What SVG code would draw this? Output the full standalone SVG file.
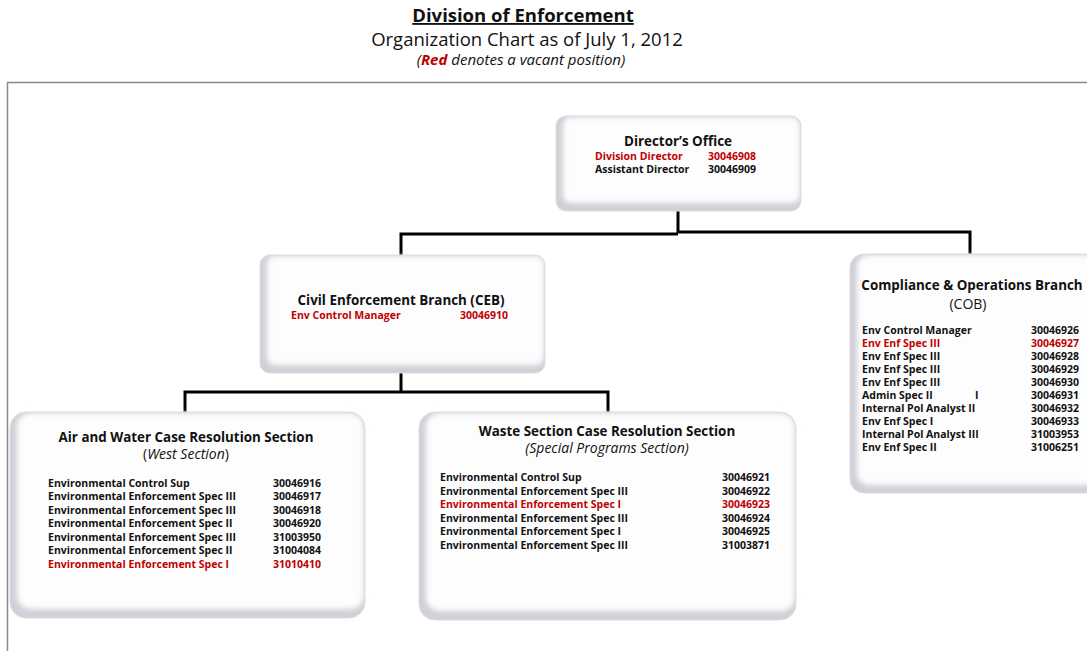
<svg xmlns="http://www.w3.org/2000/svg" width="1087" height="651" viewBox="0 0 1087 651">
<style>
text{font-family:"Open Sans","Liberation Sans",sans-serif;fill:#111}
.h{font-weight:bold;font-size:13.4px;text-anchor:middle}
.r{font-weight:bold;font-size:10.5px}
.red{fill:#c00000}
.sub{font-size:14px;text-anchor:middle}
.base{fill:#d0d0d7}
.inner{fill:#fdfdfe;filter:url(#soft)}
.edge{fill:none;stroke:#dcdce2;stroke-width:1}
.conn{stroke:#000;stroke-width:3;fill:none}
</style>
<defs>
<filter id="soft" x="-10%" y="-10%" width="120%" height="120%"><feGaussianBlur stdDeviation="2.5"/></filter>
</defs>
<rect width="1087" height="651" fill="#fff"/>
<g id="title">
<text x="523" y="22" style="font-size:18.5px;font-weight:bold;text-anchor:middle;text-decoration:underline">Division of Enforcement</text>
<text x="527" y="46" style="font-size:18.5px;text-anchor:middle">Organization Chart as of July 1, 2012</text>
<text x="521" y="65" style="font-size:15px;font-style:italic;text-anchor:middle">(<tspan class="red" font-weight="bold">Red</tspan> denotes a vacant position)</text>
</g>
<path d="M7.5 651 V82.5 H1087" fill="none" stroke="#888" stroke-width="1.5"/>
<g id="connectors">
<path class="conn" d="M678 211 V233 M401 256 V234 H678 M678 232 H970 V254"/>
<path class="conn" d="M401 373 V392 M185 412 V392 H608 V412"/>
</g>
<g id="director">
<rect class="base" x="556" y="116" width="245" height="95" rx="10"/>
<rect class="inner" x="563" y="117" width="237" height="86" rx="8"/>
<rect class="edge" x="556" y="116" width="245" height="95" rx="10"/>
<text class="h" x="678" y="146">Director’s Office</text>
<text class="r red" x="595" y="160">Division Director</text><text class="r red" x="708" y="160">30046908</text>
<text class="r" x="595" y="173">Assistant Director</text><text class="r" x="708" y="173">30046909</text>
</g>
<g id="ceb">
<rect class="base" x="260" y="255" width="285" height="118" rx="10"/>
<rect class="inner" x="267" y="256" width="277" height="109" rx="8"/>
<rect class="edge" x="260" y="255" width="285" height="118" rx="10"/>
<text class="h" x="401" y="305">Civil Enforcement Branch (CEB)</text>
<text class="r red" x="291" y="319">Env Control Manager</text><text class="r red" x="460" y="319">30046910</text>
</g>
<g id="cob">
<rect class="base" x="850" y="254" width="260" height="239" rx="14"/>
<rect class="inner" x="857" y="255" width="252" height="230" rx="12"/>
<rect class="edge" x="850" y="254" width="260" height="239" rx="14"/>
<text class="h" x="972" y="290">Compliance &amp; Operations Branch</text>
<text class="sub" x="968" y="309">(COB)</text>
<text class="r" x="862" y="334">Env Control Manager</text><text class="r" x="1031" y="334">30046926</text>
<text class="r red" x="862" y="347">Env Enf Spec III</text><text class="r red" x="1031" y="347">30046927</text>
<text class="r" x="862" y="360">Env Enf Spec III</text><text class="r" x="1031" y="360">30046928</text>
<text class="r" x="862" y="373">Env Enf Spec III</text><text class="r" x="1031" y="373">30046929</text>
<text class="r" x="862" y="386">Env Enf Spec III</text><text class="r" x="1031" y="386">30046930</text>
<text class="r" x="862" y="399">Admin Spec II</text><text class="r" x="975" y="399">I</text><text class="r" x="1031" y="399">30046931</text>
<text class="r" x="862" y="412">Internal Pol Analyst II</text><text class="r" x="1031" y="412">30046932</text>
<text class="r" x="862" y="425">Env Enf Spec I</text><text class="r" x="1031" y="425">30046933</text>
<text class="r" x="862" y="438">Internal Pol Analyst III</text><text class="r" x="1031" y="438">31003953</text>
<text class="r" x="862" y="451">Env Enf Spec II</text><text class="r" x="1031" y="451">31006251</text>
</g>
<g id="airwater">
<rect class="base" x="10" y="412" width="355" height="206" rx="16"/>
<rect class="inner" x="17" y="413" width="347" height="196" rx="14"/>
<rect class="edge" x="10" y="412" width="355" height="206" rx="16"/>
<text class="h" x="186" y="442">Air and Water Case Resolution Section</text>
<text class="sub" x="186" y="459">(<tspan font-style="italic">West Section</tspan>)</text>
<text class="r" x="48" y="487">Environmental Control Sup</text><text class="r" x="273" y="487">30046916</text>
<text class="r" x="48" y="500">Environmental Enforcement Spec III</text><text class="r" x="273" y="500">30046917</text>
<text class="r" x="48" y="514">Environmental Enforcement Spec III</text><text class="r" x="273" y="514">30046918</text>
<text class="r" x="48" y="527">Environmental Enforcement Spec II</text><text class="r" x="273" y="527">30046920</text>
<text class="r" x="48" y="541">Environmental Enforcement Spec III</text><text class="r" x="273" y="541">31003950</text>
<text class="r" x="48" y="554">Environmental Enforcement Spec II</text><text class="r" x="273" y="554">31004084</text>
<text class="r red" x="48" y="568">Environmental Enforcement Spec I</text><text class="r red" x="273" y="568">31010410</text>
</g>
<g id="waste">
<rect class="base" x="419" y="412" width="377" height="208" rx="16"/>
<rect class="inner" x="426" y="413" width="369" height="198" rx="14"/>
<rect class="edge" x="419" y="412" width="377" height="208" rx="16"/>
<text class="h" x="607" y="436">Waste Section Case Resolution Section</text>
<text class="sub" x="607" y="453" font-style="italic">(Special Programs Section)</text>
<text class="r" x="440" y="481">Environmental Control Sup</text><text class="r" x="722" y="481">30046921</text>
<text class="r" x="440" y="495">Environmental Enforcement Spec III</text><text class="r" x="722" y="495">30046922</text>
<text class="r red" x="440" y="508">Environmental Enforcement Spec I</text><text class="r red" x="722" y="508">30046923</text>
<text class="r" x="440" y="522">Environmental Enforcement Spec III</text><text class="r" x="722" y="522">30046924</text>
<text class="r" x="440" y="535">Environmental Enforcement Spec I</text><text class="r" x="722" y="535">30046925</text>
<text class="r" x="440" y="549">Environmental Enforcement Spec III</text><text class="r" x="722" y="549">31003871</text>
</g>
</svg>
